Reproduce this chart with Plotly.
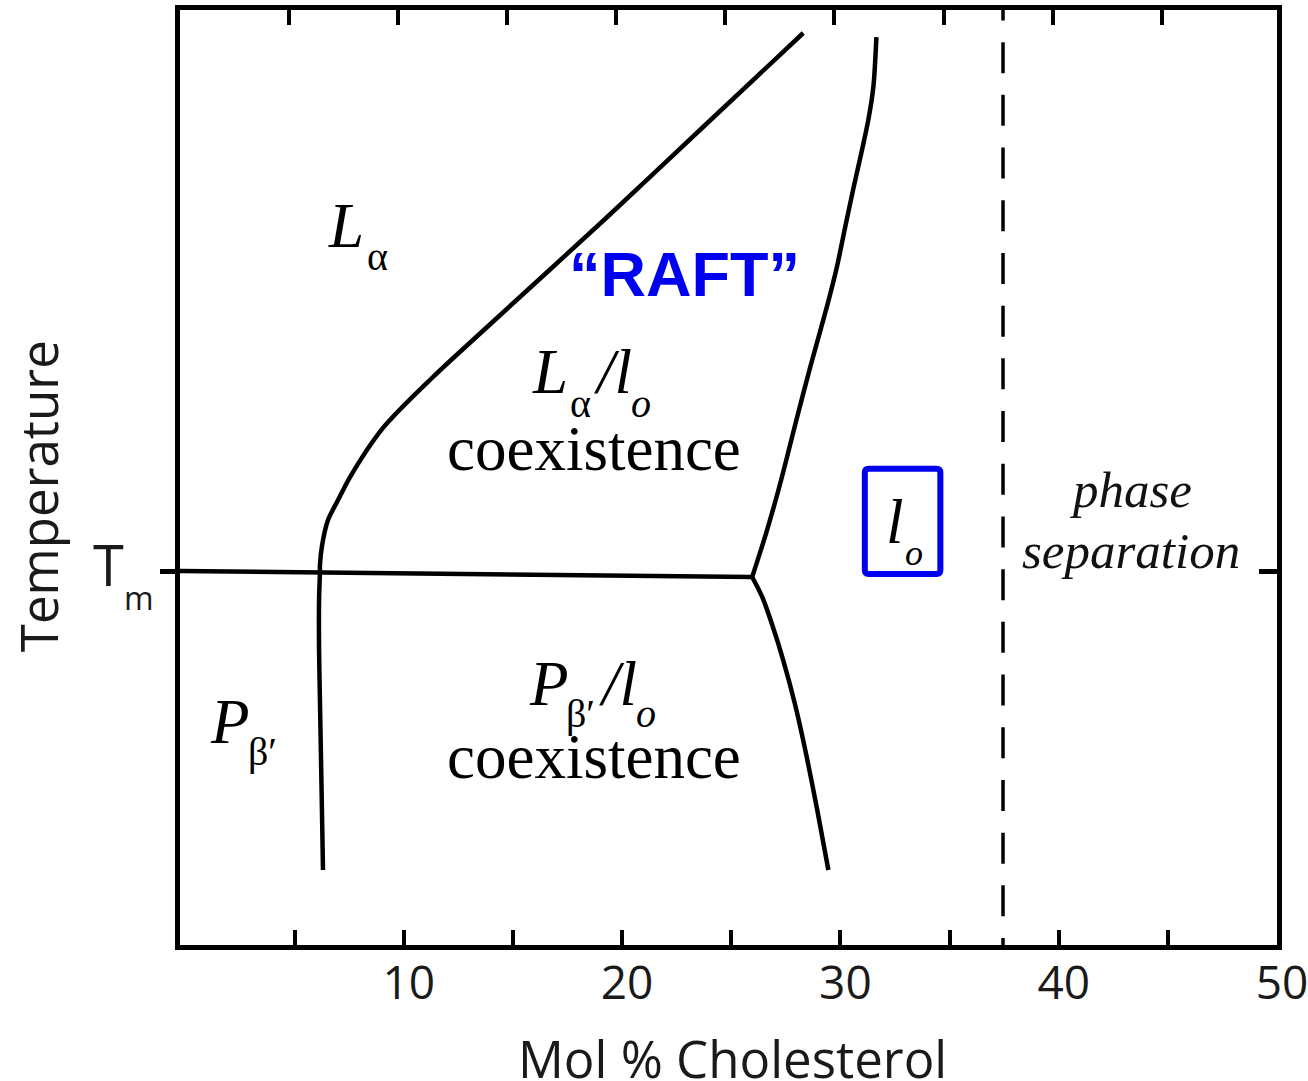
import plotly.graph_objects as go

# ---------------- data (x = mol % cholesterol, y = temperature, arbitrary units) -------------
TM = 40.0

left_x = [28.30, 23.81, 19.32, 13.82, 11.34, 9.05, 7.54, 6.99, 6.53, 6.26, 6.16, 6.16,
          6.12, 6.12, 6.16, 6.21, 6.26, 6.30]
left_y = [97.54, 87.70, 77.86, 66.10, 60.75, 55.30, 50.05, 47.59, 45.45, 42.78, 40.64, 39.89,
          36.90, 31.55, 26.20, 19.79, 13.37, 8.02]

right_upper_x = [25.96, 26.60, 27.25, 28.02, 28.62, 29.38, 29.84, 30.22, 30.61, 30.96, 31.28, 31.51, 31.65]
right_upper_y = [39.36, 44.06, 49.41, 56.47, 61.82, 68.24, 72.51, 76.79, 81.07, 84.71, 88.24, 91.76, 97.11]

right_lower_x = [25.96, 26.42, 26.88, 27.38, 27.93, 28.44, 28.94, 29.45]
right_lower_y = [39.36, 37.22, 34.22, 30.48, 25.67, 20.32, 14.44, 8.02]

tm_line_x = [-0.3, 25.96]
tm_line_y = [TM, 39.36]

dashed_x = [37.45, 37.45]
dashed_y = [102.2, -1.0]

x_tickvals = [5, 10, 15, 20, 25, 30, 35, 40, 45, 50]
x_ticktext = ["", "10", "", "20", "", "30", "", "40", "", "50"]
top_tickvals = [5, 10, 15, 20, 25, 30, 35, 40, 45]

BLUE = "#0000F0"
SERIF = "Liberation Serif"
SANS = "Open Sans"

fig = go.Figure()

line_style = dict(color="black", width=4.5, shape="spline", smoothing=0.8)
fig.add_trace(go.Scatter(x=left_x, y=left_y, mode="lines", line=line_style, hoverinfo="skip"))
fig.add_trace(go.Scatter(x=right_upper_x, y=right_upper_y, mode="lines", line=line_style, hoverinfo="skip"))
fig.add_trace(go.Scatter(x=right_lower_x, y=right_lower_y, mode="lines", line=line_style, hoverinfo="skip"))
fig.add_trace(go.Scatter(x=tm_line_x, y=tm_line_y, mode="lines", line=dict(color="black", width=4.5),
                         hoverinfo="skip"))
fig.add_trace(go.Scatter(x=dashed_x, y=dashed_y, mode="lines",
                         line=dict(color="black", width=3.5, dash="31px,21.7px"), hoverinfo="skip"))
# helper trace so the secondary (top / right) tick axes are drawn
fig.add_trace(go.Scatter(x=[None], y=[None], xaxis="x2", yaxis="y2", mode="lines", hoverinfo="skip"))


def ann(text, x, y, size, family=SERIF, color="black", xref="x", yref="y", angle=0):
    return dict(text=text, x=x, y=y, xref=xref, yref=yref, showarrow=False,
                xanchor="center", yanchor="middle", textangle=angle,
                font=dict(size=size, family=family, color=color))


annotations = [
    # L_alpha (top left)
    ann("<i>L</i>", 7.36, 76.93, 63),
    ann("α", 8.78, 73.64, 40),
    # RAFT
    ann("<b>“RAFT”</b>", 22.85, 71.75, 63, family="Liberation Sans", color=BLUE),
    # L_alpha / l_o coexistence
    ann("<i>L</i>", 16.70, 61.31, 63),
    ann("α", 18.08, 57.91, 40),
    ann("<i>/l</i>", 19.59, 61.31, 63),
    ann("<i>o</i>", 20.88, 57.91, 40),
    ann("coexistence", 18.70, 53.04, 63),
    # P_beta' / l_o coexistence
    ann("<i>P</i>", 16.61, 27.95, 63),
    ann("β′", 18.08, 24.76, 40),
    ann("<i>/l</i>", 19.82, 27.95, 63),
    ann("<i>o</i>", 21.10, 24.76, 40),
    ann("coexistence", 18.70, 20.10, 63),
    # P_beta'
    ann("<i>P</i>", 2.04, 23.88, 63),
    ann("β′", 3.55, 20.70, 40),
    # l_o in box
    ann("<i>l</i>", 32.51, 45.27, 63),
    ann("<i>o</i>", 33.39, 41.95, 36),
    # phase separation
    ann("<i>phase</i>", 43.33, 48.70, 51, color="#111111"),
    ann("<i>separation</i>", 43.33, 42.10, 51, color="#111111"),
    # T_m tick label
    ann("T", -0.0652, 0.408, 56, family=SANS, color="#1a1a1a", xref="paper", yref="paper"),
    ann("m", -0.0374, 0.3716, 32, family=SANS, color="#1a1a1a", xref="paper", yref="paper"),
    # axis titles
    ann("Mol % Cholesterol", 0.5036, -0.1209, 51, family=SANS, color="#1a1a1a", xref="paper", yref="paper"),
    ann("Temperature", -0.1295, 0.480, 51, family=SANS, color="#1a1a1a", xref="paper", yref="paper",
        angle=-90),
]

# blue box around l_o (rounded rectangle)
bx0, bx1, by0, by1 = 31.12, 34.58, 39.68, 50.94
rx, ry = 0.18, 0.43
box_path = (f"M {bx0+rx},{by0} L {bx1-rx},{by0} Q {bx1},{by0} {bx1},{by0+ry} "
            f"L {bx1},{by1-ry} Q {bx1},{by1} {bx1-rx},{by1} L {bx0+rx},{by1} "
            f"Q {bx0},{by1} {bx0},{by1-ry} L {bx0},{by0+ry} Q {bx0},{by0} {bx0+rx},{by0} Z")

fig.update_layout(
    width=1308, height=1081,
    margin=dict(l=180, r=31, t=10, b=136, autoexpand=False),
    paper_bgcolor="white", plot_bgcolor="white",
    showlegend=False,
    annotations=annotations,
    shapes=[dict(type="path", path=box_path, xref="x", yref="y",
                 line=dict(color=BLUE, width=6))],
    xaxis=dict(range=[-0.25, 50], tickvals=x_tickvals, ticktext=x_ticktext,
               ticks="inside", ticklen=15, tickwidth=3.5, tickcolor="black",
               showline=True, linewidth=4.5, linecolor="black", mirror=True,
               showgrid=False, zeroline=False, automargin=False,
               ticklabelstandoff=-6, ticklabelshift=5, ticklabeloverflow="allow",
               tickfont=dict(family=SANS, size=46, color="#1a1a1a")),
    xaxis2=dict(overlaying="x", side="top", anchor="y", range=[0.025, 50.275],
                tickvals=top_tickvals, ticks="inside", ticklen=15, tickwidth=3.5,
                tickcolor="black", showticklabels=False, showline=False,
                showgrid=False, zeroline=False, automargin=False),
    yaxis=dict(range=[0, 100], tickvals=[TM], ticks="outside", ticklen=15, tickwidth=4.5,
               tickcolor="black", showticklabels=False, showline=True, linewidth=4.5,
               linecolor="black", mirror=True, showgrid=False, zeroline=False, automargin=False),
    yaxis2=dict(overlaying="y", side="right", anchor="x", range=[0, 100], tickvals=[TM],
                ticks="inside", ticklen=18, tickwidth=4.5, tickcolor="black",
                showticklabels=False, showline=False, showgrid=False, zeroline=False,
                automargin=False),
)

fig.write_html("out.html")
